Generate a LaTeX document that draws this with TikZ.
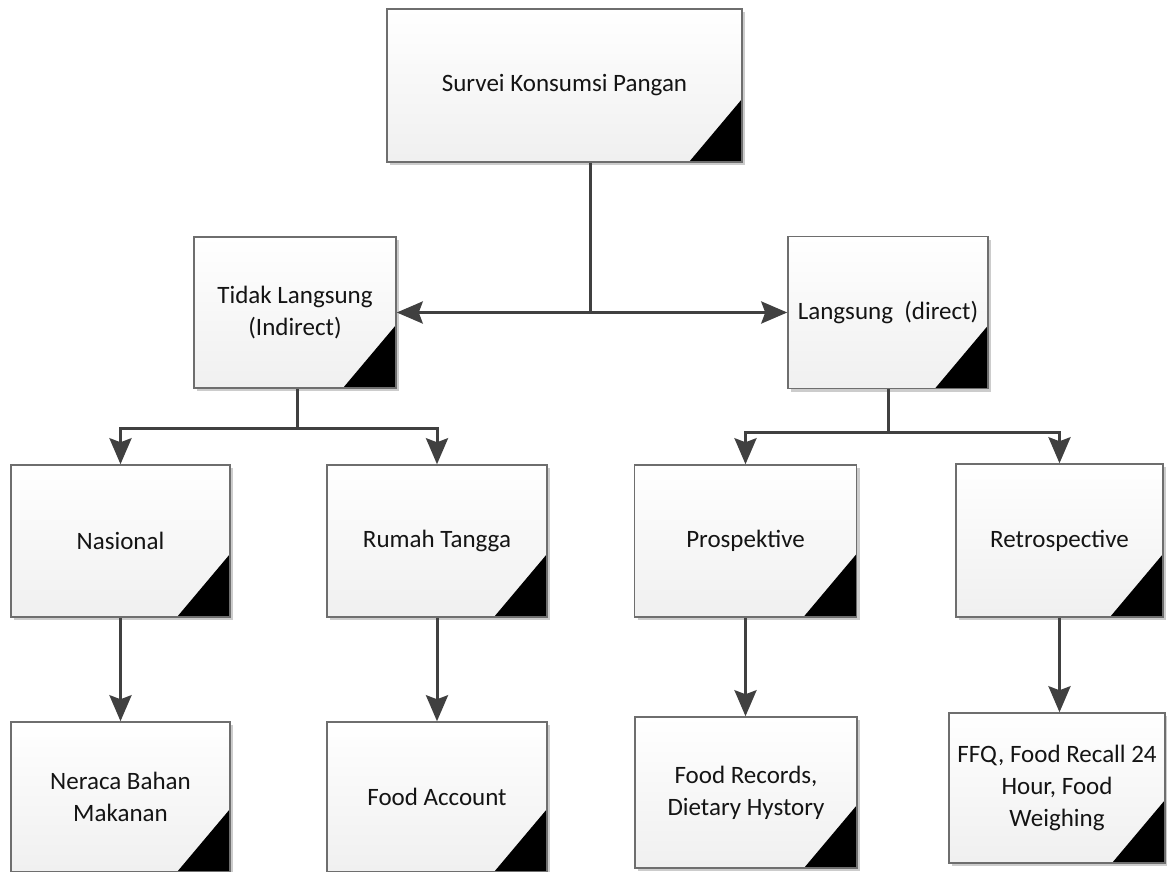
\documentclass[tikz,border=0pt]{standalone}
\usepackage{fontspec}
\setmainfont{Carlito}
\usepackage{xcolor}
\usepackage{tikz}
\usetikzlibrary{arrows.meta, shadows}

\definecolor{linegray}{HTML}{404040}
\definecolor{edgegray}{HTML}{6E6E6E}

\tikzset{
    surveybox/.style={rectangle, draw=edgegray, line width=1.5pt, top color=white, bottom color=black!6,
        align=center, text=black!92, font=\fontsize{25}{32}\selectfont, inner sep=4pt,
        drop shadow={shadow xshift=3pt, shadow yshift=-3pt, opacity=0.2, fill=black},
        path picture={\fill[black] (path picture bounding box.south east) -- ++(-53pt,0) -- ++(53pt,63pt) -- cycle;}},
    conn/.style={draw=linegray, line width=3pt},
    arr/.style={conn, -{Stealth[length=26pt, width=22pt, inset=4pt]}}
}

\begin{document}
\begin{tikzpicture}[x=1pt, y=-1pt]
    \path[use as bounding box, fill=white] (0,0) rectangle (1167,872);

    % top level
    \node[surveybox, minimum width=355pt, minimum height=153pt] (top) at (564.5,85.5) {Survei Konsumsi Pangan};

    % second level
    \node[surveybox, minimum width=202pt, minimum height=151pt] (indirect) at (295,312.5) {Tidak Langsung\\(Indirect)};
    \node[surveybox, minimum width=200pt, minimum height=152pt] (direct) at (888,312.5) {Langsung~~(direct)};

    % third level
    \node[surveybox, minimum width=219pt, minimum height=152pt] (nasional) at (120.5,541) {Nasional};
    \node[surveybox, minimum width=220pt, minimum height=152pt] (rumah) at (437,541) {Rumah Tangga};
    \node[surveybox, minimum width=222pt, minimum height=152pt] (prosp) at (745.5,541) {Prospektive};
    \node[surveybox, minimum width=207pt, minimum height=153pt] (retro) at (1059.5,540.5) {Retrospective};

    % methods
    \node[surveybox, minimum width=219pt, minimum height=150pt] (neraca) at (120.5,797) {Neraca Bahan\\Makanan};
    \node[surveybox, minimum width=220pt, minimum height=150pt] (account) at (437,797) {Food Account};
    \node[surveybox, minimum width=222pt, minimum height=151pt] (records) at (746,792.5) {Food Records,\\Dietary Hystory};
    \node[surveybox, minimum width=216pt, minimum height=150pt] (ffq) at (1057,788) {FFQ, Food Recall 24\\Hour, Food\\Weighing};

    % split points
    \coordinate (hub) at (590,312.5);
    \coordinate (isplit) at (297,428);
    \coordinate (dsplit) at (888,432);

    % connectors
    \draw[conn] (hub |- top.south) -- (hub);
    \draw[arr, {Stealth[length=26pt, width=22pt, inset=4pt]}-{Stealth[length=26pt, width=22pt, inset=4pt]}] (indirect.east) -- (direct.west);

    \draw[conn] (isplit |- indirect.south) -- (isplit);
    \draw[arr] (isplit) -| (nasional.north);
    \draw[arr] (isplit) -| (rumah.north);

    \draw[conn] (direct.south) -- (dsplit);
    \draw[arr] (dsplit) -| (prosp.north);
    \draw[arr] (dsplit) -| (retro.north);

    \draw[arr] (nasional.south) -- (neraca.north);
    \draw[arr] (rumah.south) -- (account.north);
    \draw[arr] (prosp.south) -- (prosp.south |- records.north);
    \draw[arr] (retro.south) -- (retro.south |- ffq.north);
\end{tikzpicture}
\end{document}
